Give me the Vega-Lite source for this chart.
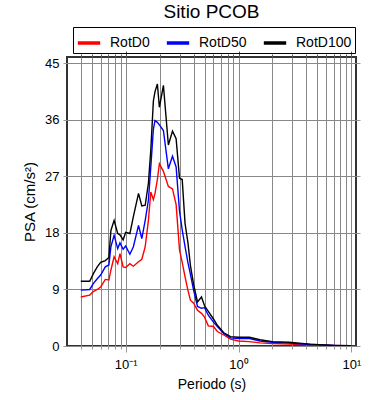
{
  "$schema": "https://vega.github.io/schema/vega-lite/v6.json",
  "width": 289,
  "height": 289,
  "autosize": {"type": "none"},
  "padding": {"left": 67, "top": 57, "right": 34, "bottom": 54},
  "title": {"text": "Sitio PCOB", "fontSize": 19, "fontWeight": "normal", "font": "Liberation Sans", "anchor": "middle", "offset": 5, "color": "#000"},
  "config": {
    "view": {"stroke": "#333", "strokeWidth": 2},
    "font": "Liberation Sans"
  },
  "data": {"values": [
    {"T": 0.04, "RotD0": 7.8, "RotD50": 8.9, "RotD100": 10.3},
    {"T": 0.048, "RotD0": 8.1, "RotD50": 9.0, "RotD100": 10.3},
    {"T": 0.052, "RotD0": 8.7, "RotD50": 10.0, "RotD100": 11.6},
    {"T": 0.056, "RotD0": 9.0, "RotD50": 10.7, "RotD100": 12.6},
    {"T": 0.06, "RotD0": 9.4, "RotD50": 11.3, "RotD100": 13.3},
    {"T": 0.066, "RotD0": 10.6, "RotD50": 12.6, "RotD100": 13.6},
    {"T": 0.071, "RotD0": 10.5, "RotD50": 12.9, "RotD100": 14.1},
    {"T": 0.074, "RotD0": 12.1, "RotD50": 15.8, "RotD100": 18.4},
    {"T": 0.079, "RotD0": 14.2, "RotD50": 17.6, "RotD100": 20.0},
    {"T": 0.085, "RotD0": 13.1, "RotD50": 15.5, "RotD100": 17.9},
    {"T": 0.089, "RotD0": 14.7, "RotD50": 16.4, "RotD100": 17.7},
    {"T": 0.095, "RotD0": 12.6, "RotD50": 15.4, "RotD100": 16.9},
    {"T": 0.1, "RotD0": 12.5, "RotD50": 15.9, "RotD100": 18.1},
    {"T": 0.109, "RotD0": 13.1, "RotD50": 14.6, "RotD100": 17.9},
    {"T": 0.117, "RotD0": 12.7, "RotD50": 15.8, "RotD100": 20.6},
    {"T": 0.13, "RotD0": 13.4, "RotD50": 19.2, "RotD100": 24.3},
    {"T": 0.139, "RotD0": 13.8, "RotD50": 17.1, "RotD100": 22.3},
    {"T": 0.149, "RotD0": 15.8, "RotD50": 20.0, "RotD100": 22.4},
    {"T": 0.159, "RotD0": 20.0, "RotD50": 23.2, "RotD100": 25.9},
    {"T": 0.167, "RotD0": 24.5, "RotD50": 28.5, "RotD100": 31.2},
    {"T": 0.176, "RotD0": 23.3, "RotD50": 34.5, "RotD100": 39.0},
    {"T": 0.182, "RotD0": 24.3, "RotD50": 35.9, "RotD100": 40.5},
    {"T": 0.191, "RotD0": 26.5, "RotD50": 35.6, "RotD100": 41.7},
    {"T": 0.199, "RotD0": 29.0, "RotD50": 35.2, "RotD100": 38.0},
    {"T": 0.216, "RotD0": 27.8, "RotD50": 34.3, "RotD100": 41.5},
    {"T": 0.239, "RotD0": 25.4, "RotD50": 28.2, "RotD100": 32.0},
    {"T": 0.26, "RotD0": 25.0, "RotD50": 30.2, "RotD100": 34.2},
    {"T": 0.28, "RotD0": 22.5, "RotD50": 28.5, "RotD100": 33.0},
    {"T": 0.3, "RotD0": 15.3, "RotD50": 21.5, "RotD100": 26.7},
    {"T": 0.317, "RotD0": 13.3, "RotD50": 18.5, "RotD100": 26.5},
    {"T": 0.336, "RotD0": 11.0, "RotD50": 15.8, "RotD100": 19.5},
    {"T": 0.356, "RotD0": 8.9, "RotD50": 13.3, "RotD100": 16.5},
    {"T": 0.375, "RotD0": 7.3, "RotD50": 11.4, "RotD100": 12.8},
    {"T": 0.4, "RotD0": 6.8, "RotD50": 8.9, "RotD100": 9.8},
    {"T": 0.433, "RotD0": 5.7, "RotD50": 6.3, "RotD100": 7.0},
    {"T": 0.47, "RotD0": 5.2, "RotD50": 6.0, "RotD100": 7.8},
    {"T": 0.5, "RotD0": 4.6, "RotD50": 6.1, "RotD100": 6.4},
    {"T": 0.54, "RotD0": 3.2, "RotD50": 4.9, "RotD100": 5.5},
    {"T": 0.6, "RotD0": 3.1, "RotD50": 3.8, "RotD100": 4.3},
    {"T": 0.65, "RotD0": 2.3, "RotD50": 3.1, "RotD100": 3.3},
    {"T": 0.74, "RotD0": 1.75, "RotD50": 2.0, "RotD100": 2.1},
    {"T": 0.85, "RotD0": 1.1, "RotD50": 1.3, "RotD100": 1.5},
    {"T": 1.0, "RotD0": 0.8, "RotD50": 1.2, "RotD100": 1.4},
    {"T": 1.25, "RotD0": 0.7, "RotD50": 1.2, "RotD100": 1.4},
    {"T": 1.55, "RotD0": 0.5, "RotD50": 0.8, "RotD100": 1.0},
    {"T": 2.0, "RotD0": 0.4, "RotD50": 0.6, "RotD100": 0.7},
    {"T": 2.8, "RotD0": 0.3, "RotD50": 0.45, "RotD100": 0.6},
    {"T": 4.3, "RotD0": 0.15, "RotD50": 0.25, "RotD100": 0.3},
    {"T": 7.0, "RotD0": 0.07, "RotD50": 0.1, "RotD100": 0.1},
    {"T": 10.0, "RotD0": 0.03, "RotD50": 0.05, "RotD100": 0.05}
  ]},
  "transform": [{"fold": ["RotD0", "RotD50", "RotD100"], "as": ["series", "PSA"]}],
  "layer": [
    {
      "mark": {"type": "line", "strokeWidth": 1.4, "clip": true},
      "encoding": {
        "x": {
          "field": "T", "type": "quantitative",
          "scale": {"type": "log", "domain": [0.0302, 11], "nice": false},
          "axis": {
            "orient": "bottom",
            "values": [0.04, 0.05, 0.06, 0.07, 0.08, 0.09, 0.1, 0.2, 0.3, 0.4, 0.5, 0.6, 0.7, 0.8, 0.9, 1, 2, 3, 4, 5, 6, 7, 8, 9, 10],
            "labelExpr": "datum.value == 0.1 ? '10⁻¹' : (datum.value == 1 ? '10⁰' : (datum.value == 10 ? '10¹' : ''))",
            "labelOverlap": false,
            "labelFontSize": 13,
            "labelColor": "#000",
            "labelPadding": 6,
            "grid": true, "gridColor": "#888", "gridWidth": 1, "gridOpacity": 1,
            "domain": false,
            "tickColor": "#999",
            "tickSize": {"condition": {"test": "datum.value == 0.1 || datum.value == 1 || datum.value == 10", "value": 6}, "value": 3},
            "title": "Periodo (s)", "titleFontSize": 14, "titleFontWeight": "normal", "titleColor": "#000", "titlePadding": 6
          }
        },
        "y": {
          "field": "PSA", "type": "quantitative",
          "scale": {"domain": [0, 46], "nice": false, "zero": true},
          "axis": {
            "orient": "left",
            "values": [0, 9, 18, 27, 36, 45],
            "labelFontSize": 13, "labelColor": "#000", "labelPadding": 4,
            "grid": true, "gridColor": "#888", "gridWidth": 1, "gridOpacity": 1,
            "domain": false, "tickColor": "#999", "tickSize": 4,
            "title": "PSA (cm/s²)", "titleFontSize": 15, "titleFontWeight": "normal", "titleColor": "#000", "titlePadding": 7
          }
        },
        "color": {
          "field": "series", "type": "nominal",
          "scale": {"domain": ["RotD0", "RotD50", "RotD100"], "range": ["#ff0000", "#0000ff", "#000000"]},
          "legend": {
            "orient": "none", "legendX": 6, "legendY": -30,
            "direction": "horizontal", "title": null,
            "symbolType": "stroke", "symbolStrokeWidth": 3.5, "symbolSize": 500,
            "labelFontSize": 14, "labelColor": "#000", "labelOffset": 8,
            "columnPadding": 9, "padding": 3, "strokeColor": "#000"
          }
        }
      }
    },
    {
      "mark": {"type": "line", "opacity": 0},
      "encoding": {
        "x": {
          "field": "T", "type": "quantitative",
          "axis": {
            "orient": "top",
            "values": [0.04, 0.05, 0.06, 0.07, 0.08, 0.09, 0.1, 0.2, 0.3, 0.4, 0.5, 0.6, 0.7, 0.8, 0.9, 1, 2, 3, 4, 5, 6, 7, 8, 9, 10],
            "labels": false, "grid": false, "domain": false, "title": null,
            "tickColor": "#555",
            "tickSize": {"condition": {"test": "datum.value == 0.1 || datum.value == 1 || datum.value == 10", "value": 6}, "value": 3}
          }
        },
        "y": {
          "field": "PSA", "type": "quantitative",
          "axis": {
            "orient": "right", "values": [0, 9, 18, 27, 36, 45],
            "labels": false, "grid": false, "domain": false, "title": null,
            "tickColor": "#999", "tickSize": 4
          }
        },
        "detail": {"field": "series"}
      }
    }
  ],
  "resolve": {"axis": {"x": "independent", "y": "independent"}}
}
